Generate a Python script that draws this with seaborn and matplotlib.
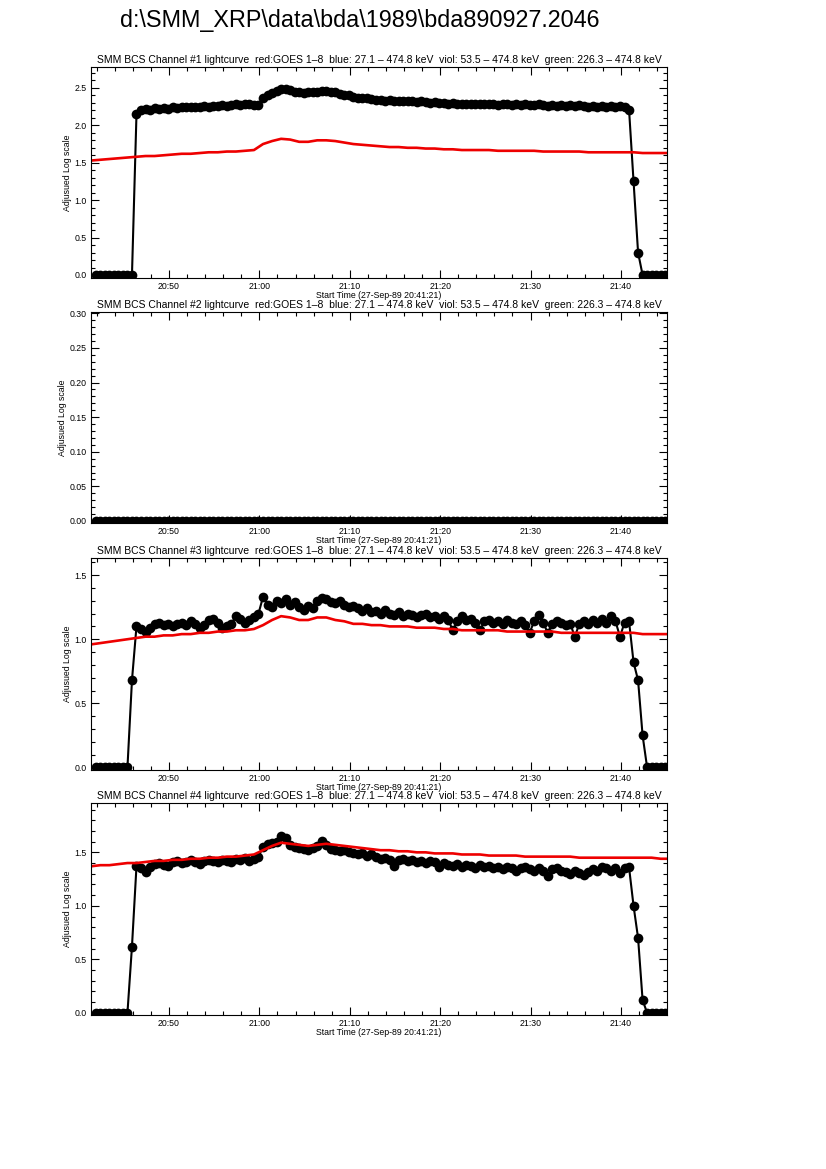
import numpy as np
import pandas as pd
import seaborn as sns
import matplotlib.pyplot as plt
from matplotlib.ticker import MultipleLocator, FuncFormatter

# times are minutes after 20:00 UT
bcs_start, bcs_step, bcs_n = 41.9, 0.5, 127     # BCS samples (30 s)
goes_start, goes_step, goes_n = 41.4, 1.0, 65   # GOES 1-8 A samples (1 min)

# black: BCS channel lightcurves (adjusted log scale)
ch1_bcs = [0.0, 0.0, 0.0, 0.0, 0.0, 0.0, 0.0, 0.0, 0.0, 2.15,
           2.20, 2.22, 2.21, 2.23, 2.22, 2.23, 2.22, 2.24, 2.23, 2.24,
           2.24, 2.25, 2.24, 2.25, 2.26, 2.25, 2.26, 2.26, 2.27, 2.26,
           2.27, 2.28, 2.27, 2.28, 2.28, 2.27, 2.27, 2.36, 2.40, 2.43,
           2.46, 2.48, 2.48, 2.47, 2.45, 2.44, 2.43, 2.44, 2.44, 2.45,
           2.46, 2.46, 2.45, 2.44, 2.42, 2.41, 2.40, 2.38, 2.37, 2.37,
           2.36, 2.35, 2.34, 2.34, 2.33, 2.34, 2.33, 2.33, 2.32, 2.33,
           2.32, 2.31, 2.32, 2.31, 2.30, 2.31, 2.30, 2.30, 2.29, 2.30,
           2.29, 2.28, 2.29, 2.28, 2.29, 2.28, 2.28, 2.29, 2.28, 2.27,
           2.28, 2.28, 2.27, 2.28, 2.27, 2.28, 2.27, 2.27, 2.28, 2.27,
           2.26, 2.27, 2.26, 2.27, 2.26, 2.27, 2.26, 2.27, 2.26, 2.25,
           2.26, 2.25, 2.26, 2.25, 2.26, 2.25, 2.26, 2.25, 2.21, 1.25,
           0.30, 0.0, 0.0, 0.0, 0.0, 0.0, 0.0]

ch2_bcs = [0.0] * 127

ch3_bcs = [0.0, 0.0, 0.0, 0.0, 0.0, 0.0, 0.0, 0.0, 0.68, 1.10,
           1.08, 1.06, 1.09, 1.12, 1.13, 1.11, 1.12, 1.10, 1.12, 1.13,
           1.11, 1.14, 1.12, 1.09, 1.11, 1.15, 1.16, 1.13, 1.09, 1.10,
           1.12, 1.18, 1.16, 1.13, 1.15, 1.17, 1.20, 1.33, 1.27, 1.25,
           1.30, 1.28, 1.31, 1.27, 1.29, 1.25, 1.23, 1.26, 1.24, 1.30,
           1.32, 1.31, 1.29, 1.28, 1.30, 1.27, 1.25, 1.26, 1.24, 1.22,
           1.24, 1.21, 1.22, 1.20, 1.23, 1.20, 1.19, 1.21, 1.18, 1.20,
           1.19, 1.17, 1.19, 1.20, 1.17, 1.18, 1.16, 1.18, 1.15, 1.07,
           1.14, 1.18, 1.15, 1.16, 1.13, 1.07, 1.14, 1.15, 1.13, 1.14,
           1.12, 1.15, 1.13, 1.12, 1.14, 1.11, 1.05, 1.14, 1.19, 1.13,
           1.05, 1.12, 1.14, 1.13, 1.11, 1.12, 1.02, 1.12, 1.14, 1.12,
           1.15, 1.13, 1.16, 1.13, 1.18, 1.14, 1.02, 1.13, 1.14, 0.82,
           0.68, 0.25, 0.0, 0.0, 0.0, 0.0, 0.0]

ch4_bcs = [0.0, 0.0, 0.0, 0.0, 0.0, 0.0, 0.0, 0.0, 0.62, 1.37,
           1.35, 1.32, 1.36, 1.39, 1.40, 1.38, 1.37, 1.41, 1.42, 1.40,
           1.41, 1.43, 1.41, 1.39, 1.42, 1.43, 1.42, 1.41, 1.43, 1.42,
           1.41, 1.44, 1.43, 1.45, 1.42, 1.44, 1.46, 1.55, 1.58, 1.59,
           1.60, 1.65, 1.63, 1.57, 1.55, 1.54, 1.53, 1.52, 1.54, 1.56,
           1.61, 1.57, 1.53, 1.52, 1.51, 1.52, 1.50, 1.49, 1.48, 1.49,
           1.47, 1.48, 1.46, 1.44, 1.45, 1.43, 1.37, 1.43, 1.44, 1.42,
           1.43, 1.41, 1.42, 1.40, 1.42, 1.41, 1.36, 1.40, 1.38, 1.37,
           1.39, 1.36, 1.38, 1.37, 1.35, 1.38, 1.36, 1.37, 1.35, 1.36,
           1.34, 1.36, 1.35, 1.33, 1.35, 1.36, 1.34, 1.33, 1.35, 1.33,
           1.28, 1.34, 1.35, 1.33, 1.32, 1.30, 1.33, 1.31, 1.29, 1.32,
           1.34, 1.33, 1.36, 1.35, 1.33, 1.35, 1.31, 1.35, 1.36, 1.00,
           0.70, 0.12, 0.0, 0.0, 0.0, 0.0, 0.0]

# red: GOES 1-8 scaled to each channel
goes_ch1 = [1.53, 1.54, 1.55, 1.56, 1.57, 1.58, 1.59, 1.59, 1.60, 1.61,
            1.62, 1.62, 1.63, 1.64, 1.64, 1.65, 1.65, 1.66, 1.67, 1.75,
            1.79, 1.82, 1.81, 1.78, 1.78, 1.80, 1.80, 1.79, 1.77, 1.75,
            1.74, 1.73, 1.72, 1.71, 1.71, 1.70, 1.70, 1.69, 1.69, 1.68,
            1.68, 1.67, 1.67, 1.67, 1.67, 1.66, 1.66, 1.66, 1.66, 1.66,
            1.65, 1.65, 1.65, 1.65, 1.65, 1.64, 1.64, 1.64, 1.64, 1.64,
            1.64, 1.63, 1.63, 1.63, 1.63]

goes_ch3 = [0.96, 0.97, 0.98, 0.99, 1.00, 1.01, 1.02, 1.02, 1.03, 1.03,
            1.04, 1.04, 1.05, 1.05, 1.06, 1.06, 1.07, 1.07, 1.08, 1.11,
            1.15, 1.18, 1.17, 1.15, 1.15, 1.17, 1.17, 1.15, 1.14, 1.12,
            1.12, 1.11, 1.11, 1.10, 1.10, 1.10, 1.09, 1.09, 1.09, 1.08,
            1.08, 1.07, 1.07, 1.07, 1.07, 1.07, 1.06, 1.06, 1.06, 1.06,
            1.06, 1.06, 1.05, 1.05, 1.05, 1.05, 1.05, 1.05, 1.05, 1.05,
            1.05, 1.04, 1.04, 1.04, 1.04]

goes_ch4 = [1.37, 1.38, 1.38, 1.39, 1.40, 1.40, 1.41, 1.42, 1.42, 1.43,
            1.43, 1.44, 1.44, 1.45, 1.45, 1.46, 1.46, 1.47, 1.48, 1.52,
            1.56, 1.59, 1.58, 1.57, 1.56, 1.57, 1.58, 1.57, 1.56, 1.55,
            1.54, 1.53, 1.52, 1.52, 1.51, 1.51, 1.50, 1.50, 1.49, 1.49,
            1.49, 1.48, 1.48, 1.48, 1.47, 1.47, 1.47, 1.47, 1.46, 1.46,
            1.46, 1.46, 1.46, 1.46, 1.45, 1.45, 1.45, 1.45, 1.45, 1.45,
            1.45, 1.45, 1.45, 1.44, 1.44]

t_bcs = bcs_start + bcs_step * np.arange(bcs_n)
t_goes = goes_start + goes_step * np.arange(goes_n)

sns.set_style("ticks", {"axes.edgecolor": "black", "xtick.color": "black",
                        "ytick.color": "black", "text.color": "black",
                        "axes.labelcolor": "black"})
plt.rcParams['font.family'] = ['Liberation Sans', 'DejaVu Sans']

fig = plt.figure(figsize=(8.26, 11.69), dpi=100)
fig.text(0.435, 0.9825, r"d:\SMM_XRP\data\bda\1989\bda890927.2046",
         ha='center', va='center', fontsize=16.8, color='black')

# (channel, bcs, goes, bottom, height, ymin, ymax, major, minor, fmt)
panels = [
    (1, ch1_bcs, goes_ch1, 0.7622, 0.1805, -0.04, 2.78, 0.5, 0.1, "{:.1f}"),
    (2, ch2_bcs, None, 0.5526, 0.1805, -0.003, 0.302, 0.05, 0.01, "{:.2f}"),
    (3, ch3_bcs, goes_ch3, 0.3413, 0.1813, -0.02, 1.633, 0.5, 0.1, "{:.1f}"),
    (4, ch4_bcs, goes_ch4, 0.1317, 0.1813, -0.02, 1.96, 0.5, 0.1, "{:.1f}"),
]

def hhmm(m, pos):
    m = int(round(m))
    return f"{20 + m // 60:02d}:{m % 60:02d}"

for ch, bcs, goes, bottom, height, ymin, ymax, major, minor, fmt in panels:
    ax = fig.add_axes([0.1102, bottom, 0.6973, height])
    df = pd.DataFrame({'t': t_bcs, 'v': bcs})
    sns.lineplot(data=df, x='t', y='v', ax=ax, color='black', lw=1.5,
                 marker='o', markersize=7, mec='black', mew=0, estimator=None)
    if goes is not None:
        dg = pd.DataFrame({'t': t_goes, 'v': goes})
        sns.lineplot(data=dg, x='t', y='v', ax=ax, color='#ee0000', lw=1.9,
                     estimator=None)
    ax.set_xlim(41.37, 105.1)
    ax.set_ylim(ymin, ymax)
    ax.xaxis.set_major_locator(MultipleLocator(10))
    ax.xaxis.set_minor_locator(MultipleLocator(2))
    ax.xaxis.set_major_formatter(FuncFormatter(hhmm))
    ax.yaxis.set_major_locator(MultipleLocator(major))
    ax.yaxis.set_minor_locator(MultipleLocator(minor))
    ax.yaxis.set_major_formatter(FuncFormatter(lambda v, p, f=fmt: f.format(abs(v) if abs(v) < 1e-9 else v)))
    ax.tick_params(which='both', direction='in', top=True, right=True,
                   labelsize=6.3, width=0.8, pad=3, labelcolor='black')
    ax.tick_params(which='major', length=6)
    ax.tick_params(which='minor', length=3)
    for s in ax.spines.values():
        s.set_linewidth(0.8)
    ax.set_title(f"SMM BCS Channel #{ch} lightcurve  red:GOES 1\u20138  blue: 27.1 \u2013 474.8 keV"
                 "  viol: 53.5 \u2013 474.8 keV  green: 226.3 \u2013 474.8 keV",
                 fontsize=7.5, pad=3, color='black')
    ax.set_xlabel("Start Time (27-Sep-89 20:41:21)", fontsize=6.3, labelpad=0)
    ax.set_ylabel("Adjusued Log scale", fontsize=6.3, labelpad=2)

fig.savefig("out.png", dpi=100)
